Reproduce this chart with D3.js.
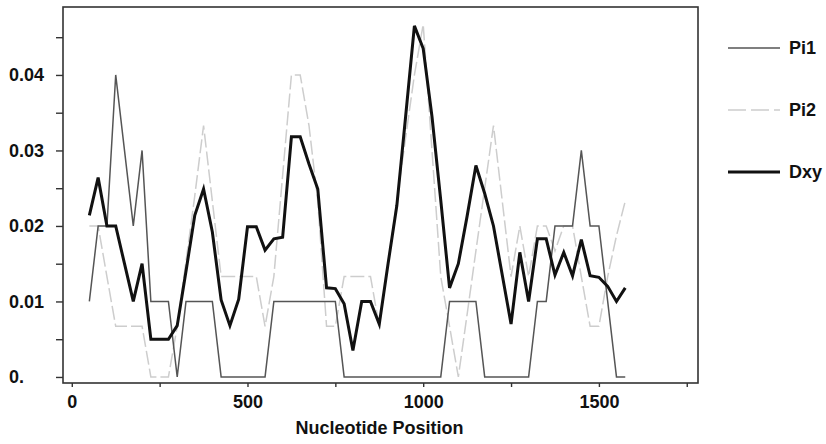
<!DOCTYPE html>
<html>
<head>
<meta charset="utf-8">
<script src="https://cdn.jsdelivr.net/npm/d3@7"></script>
<style>
  html, body { margin: 0; padding: 0; background: #fff; }
  svg { display: block; }
  text { font-family: "Liberation Sans", Arial, sans-serif; font-weight: bold; fill: #111; }
</style>
</head>
<body>
<svg id="chart" width="826" height="444"></svg>
<script>
// ---- data ----
const positions = [50,75,100,125,150,175,200,225,250,275,300,325,350,375,400,425,450,475,500,525,550,575,600,625,650,675,700,725,750,775,800,825,850,875,900,925,950,975,1000,1025,1050,1075,1100,1125,1150,1175,1200,1225,1250,1275,1300,1325,1350,1375,1400,1425,1450,1475,1500,1525,1550,1575];

const pi1 = [0.01,0.02,0.02,0.04,0.03,0.02,0.03,0.01,0.01,0.01,0,0.01,0.01,0.01,0.01,0,0,0,0,0,0,0.01,0.01,0.01,0.01,0.01,0.01,0.01,0.01,0,0,0,0,0,0,0,0,0,0,0,0,0.01,0.01,0.01,0.01,0,0,0,0,0,0,0.01,0.01,0.02,0.02,0.02,0.03,0.02,0.02,0.01,0,0];

const pi2 = [0.0200,0.0200,0.0133,0.0067,0.0067,0.0067,0.0067,0,0,0,0.0067,0.0153,0.0240,0.0333,0.0233,0.0133,0.0133,0.0133,0.0133,0.0133,0.0067,0.0133,0.0267,0.0400,0.0400,0.0333,0.0233,0.0067,0.0067,0.0133,0.0133,0.0133,0.0133,0.0067,0.0150,0.0233,0.0317,0.0400,0.0467,0.0300,0.0133,0.0067,0,0.0083,0.0167,0.0250,0.0333,0.0233,0.0133,0.0200,0.0133,0.0200,0.0200,0.0167,0.0200,0.0200,0.0133,0.0067,0.0067,0.0133,0.0187,0.0233];

const dxy = [0.0214,0.0264,0.0200,0.0200,0.0150,0.0100,0.0150,0.0050,0.0050,0.0050,0.0068,0.0140,0.0214,0.0249,0.0192,0.0102,0.0068,0.0103,0.0199,0.0199,0.0168,0.0183,0.0185,0.0318,0.0318,0.0282,0.0249,0.0118,0.0117,0.0097,0.0035,0.0100,0.0100,0.0070,0.0150,0.0227,0.0345,0.0465,0.0435,0.0345,0.0234,0.0118,0.0150,0.0213,0.0280,0.0243,0.0200,0.0135,0.0070,0.0165,0.0100,0.0183,0.0183,0.0135,0.0165,0.0134,0.0182,0.0134,0.0132,0.0120,0.0100,0.0118];

const seriesNames = ["Pi1", "Pi2", "Dxy"];
const xTicks = [0,250,500,750,1000,1250,1500,1750];
const xTickLabels = ["0","","500","","1000","","1500",""];
const yTicks = [0,0.005,0.01,0.015,0.02,0.025,0.03,0.035,0.04,0.045];
const yTickLabels = ["0.","","0.01","","0.02","","0.03","","0.04",""];
const xTitle = "Nucleotide Position";

// ---- layout ----
const svg = d3.select("#chart");
const frame = {left: 63, right: 698, top: 7, bottom: 383};
const fontSize = 18;

const x = d3.scaleLinear().domain([-25, 1782]).range([frame.left, frame.right]);
const y = d3.scaleLinear().domain([-0.0008, 0.049]).range([frame.bottom, frame.top]);

// frame
svg.append("rect")
  .attr("x", frame.left).attr("y", frame.top)
  .attr("width", frame.right - frame.left).attr("height", frame.bottom - frame.top)
  .attr("fill", "none").attr("stroke", "#333").attr("stroke-width", 1.6);

// x axis
const xAxis = d3.axisBottom(x)
  .tickValues(xTicks)
  .tickFormat((d, i) => xTickLabels[i])
  .tickSize(4).tickPadding(8).tickSizeOuter(0);
const gx = svg.append("g").attr("transform", `translate(0,${frame.bottom})`).call(xAxis);
gx.select(".domain").remove();
gx.selectAll(".tick line").attr("stroke", "#333").attr("stroke-width", 1.4);
gx.selectAll(".tick text").attr("font-size", fontSize).attr("fill", "#111")
  .style("font-family", '"Liberation Sans", Arial, sans-serif').style("font-weight", "bold");

// y axis
const yAxis = d3.axisLeft(y)
  .tickValues(yTicks)
  .tickFormat((d, i) => yTickLabels[i])
  .tickSize(7).tickSizeOuter(0);
const gy = svg.append("g").attr("transform", `translate(${frame.left},0)`).call(yAxis);
gy.select(".domain").remove();
gy.selectAll(".tick line").attr("stroke", "#333").attr("stroke-width", 1.4);
gy.selectAll(".tick text")
  .attr("x", 9 - frame.left).attr("text-anchor", "start")
  .attr("font-size", fontSize).attr("fill", "#111")
  .style("font-family", '"Liberation Sans", Arial, sans-serif').style("font-weight", "bold");

// x title
svg.append("text")
  .attr("x", (frame.left + frame.right) / 2 - 1)
  .attr("y", 434)
  .attr("text-anchor", "middle")
  .attr("font-size", fontSize)
  .text(xTitle);

// lines
const styles = {
  Pi1: {stroke: "#555", width: 1.5, dash: null},
  Pi2: {stroke: "#cdcdcd", width: 1.5, dash: "14,4"},
  Dxy: {stroke: "#111", width: 3, dash: null}
};
const seriesData = {Pi1: pi1, Pi2: pi2, Dxy: dxy};

const line = d3.line()
  .x((d, i) => x(positions[i]))
  .y(d => y(d));

["Pi2", "Pi1", "Dxy"].forEach(name => {
  const s = styles[name];
  svg.append("path")
    .datum(seriesData[name])
    .attr("d", line)
    .attr("fill", "none")
    .attr("stroke", s.stroke)
    .attr("stroke-width", s.width)
    .attr("stroke-linejoin", "miter")
    .attr("stroke-dasharray", s.dash);
});

// legend
const legendY = d3.scalePoint().domain(seriesNames).range([48, 172]);
const lg = svg.append("g");
seriesNames.forEach(name => {
  const s = styles[name];
  lg.append("line")
    .attr("x1", 728).attr("x2", 780)
    .attr("y1", legendY(name)).attr("y2", legendY(name))
    .attr("stroke", s.stroke).attr("stroke-width", s.width)
    .attr("stroke-dasharray", s.dash ? "18,5" : null);
  lg.append("text")
    .attr("x", 789).attr("y", legendY(name))
    .attr("dy", "0.35em")
    .attr("font-size", fontSize)
    .text(name);
});
</script>
</body>
</html>
